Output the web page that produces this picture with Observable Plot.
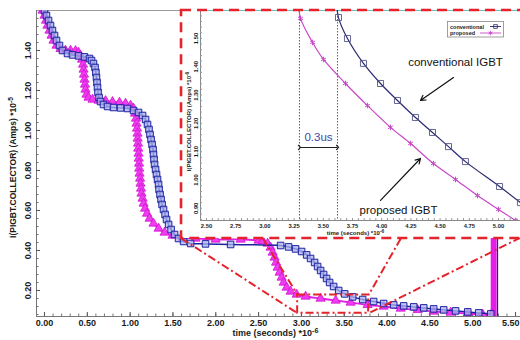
<!DOCTYPE html>
<html><head><meta charset="utf-8">
<script src="https://cdn.jsdelivr.net/npm/d3@7"></script>
<script src="https://cdn.jsdelivr.net/npm/@observablehq/plot@0.6"></script>
<style>
body{margin:0;background:#fff;}
#wrap{position:relative;width:520px;height:340px;overflow:hidden;background:#fff;}
#wrap svg{position:absolute;}
</style></head><body><div id="wrap"></div>
<script>
// ---------- main chart data (time in µs, current in 1e-5 A) ----------
const convTime = [0.00,0.023,0.047,0.07,0.093,0.117,0.14,0.175,0.21,0.269,0.327,0.397,0.467,0.526,0.549,0.572,0.59,0.60,0.607,0.613,0.619,0.625,0.637,0.654,0.689,0.736,0.806,0.888,0.97,1.04,1.098,1.145,1.18,1.203,1.22,1.232,1.244,1.256,1.267,1.273,1.279,1.285,1.297,1.308,1.32,1.332,1.338,1.349,1.361,1.373,1.39,1.408,1.425,1.449,1.478,1.519,1.565,1.624,1.706,1.88,2.173,2.757,2.85,2.932,3.002,3.061,3.107,3.154,3.189,3.224,3.259,3.294,3.329,3.376,3.435,3.505,3.598,3.715,3.843,3.96,4.077,4.194,4.311,4.428,4.544,4.661,4.80,4.942,5.07,5.21];
const convCurrent = [1.60,1.575,1.55,1.525,1.50,1.475,1.45,1.425,1.40,1.385,1.378,1.373,1.368,1.36,1.35,1.335,1.315,1.29,1.265,1.24,1.215,1.19,1.165,1.145,1.13,1.12,1.115,1.113,1.11,1.10,1.09,1.075,1.055,1.03,1.005,0.98,0.955,0.93,0.905,0.88,0.855,0.83,0.805,0.78,0.755,0.73,0.705,0.68,0.655,0.63,0.605,0.58,0.555,0.53,0.505,0.48,0.46,0.445,0.435,0.433,0.43,0.425,0.418,0.408,0.395,0.378,0.36,0.34,0.32,0.30,0.28,0.26,0.24,0.22,0.20,0.183,0.168,0.155,0.145,0.135,0.128,0.123,0.118,0.113,0.108,0.103,0.098,0.093,0.088,0.083];
const propTime = [-0.023,0.00,0.018,0.035,0.058,0.082,0.105,0.14,0.187,0.245,0.304,0.362,0.397,0.42,0.438,0.45,0.456,0.461,0.467,0.473,0.479,0.49,0.514,0.561,0.631,0.713,0.794,0.876,0.946,1.005,1.04,1.057,1.069,1.075,1.08,1.086,1.088,1.092,1.094,1.098,1.10,1.104,1.106,1.11,1.116,1.121,1.127,1.133,1.145,1.157,1.174,1.197,1.227,1.273,1.332,1.402,1.495,1.612,1.764,1.998,2.29,2.50,2.55,2.605,2.64,2.664,2.687,2.704,2.722,2.745,2.769,2.792,2.827,2.874,2.944,3.049,3.224,3.40,3.575,3.773,3.96,4.159,4.357,4.544,4.743,4.942,5.117,5.21];
const propCurrent = [1.60,1.575,1.55,1.525,1.50,1.475,1.45,1.425,1.408,1.40,1.40,1.398,1.39,1.375,1.355,1.33,1.305,1.28,1.255,1.23,1.205,1.18,1.165,1.155,1.15,1.148,1.143,1.14,1.135,1.125,1.11,1.085,1.06,1.035,1.01,0.985,0.96,0.935,0.91,0.885,0.86,0.835,0.81,0.785,0.76,0.735,0.71,0.685,0.66,0.635,0.61,0.585,0.56,0.535,0.51,0.49,0.475,0.465,0.46,0.455,0.455,0.45,0.447,0.435,0.415,0.39,0.365,0.34,0.315,0.29,0.265,0.24,0.215,0.195,0.18,0.17,0.16,0.15,0.14,0.128,0.12,0.11,0.103,0.095,0.09,0.085,0.08,0.078];
const convRestart = [5.29];   // vertical jump at end of simulation
const propRestart = [5.245];
const mainXTicks = [0,0.5,1,1.5,2,2.5,3,3.5,4,4.5,5,5.5];
const mainYTicks = [0.2,0.4,0.6,0.8,1.0,1.2,1.4];

// ---------- zoom annotation (main chart coordinates) ----------
const zoomBoxT = [2.956, 3.785];
const zoomBoxI = [0.086, 0.178];
const insetBoxT = [1.60, 5.70];
const insetBoxI = [0.46, 1.60];
const guideFromT = [1.60, 2.55, 4.16, 5.56];
const guideFromI = [0.46, 0.46, 0.46, 0.465];
const guideToT   = [2.956, 2.956, 3.785, 3.785];
const guideToI   = [0.086, 0.178, 0.178, 0.086];

// ---------- inset data (time in µs, current in 1e-6 A) ----------
const insetConvTime = [3.615,3.63,3.707,3.844,3.99,4.135,4.289,4.435,4.572,4.717,5.009,5.188];
const insetConvCurrent = [1.62,1.574,1.50,1.412,1.341,1.281,1.221,1.168,1.118,1.065,0.977,0.92];
const insetPropTime = [3.29,3.305,3.408,3.502,3.69,3.878,4.075,4.247,4.443,4.632,4.82,5.0,5.146];
const insetPropCurrent = [1.62,1.571,1.486,1.426,1.341,1.263,1.186,1.129,1.058,1.002,0.945,0.896,0.857];
const insetXTicks = [2.5,2.75,3.0,3.25,3.5,3.75,4.0,4.25,4.5,4.75,5.0];
const insetYTicks = [0.9,1.0,1.1,1.2,1.3,1.4,1.5];
const delayMarks = [3.296, 3.622];
const delayLabel = "0.3us";
const calloutLabels = ["conventional IGBT", "proposed IGBT"];
const calloutTextT = [4.632, 4.144];
const calloutTextI = [1.415, 0.892];
const calloutFromT = [4.615, 3.99];
const calloutFromI = [1.362, 0.928];
const calloutToT = [4.332, 4.332];
const calloutToI = [1.281, 1.076];
const legendLabels = ["conventional", "proposed"];

// ---------- styling ----------
const FONT = '"Liberation Sans", Arial, Helvetica, sans-serif';
const RED = "#e4232b";
const NAVY = "#1e22a0";
const MAG = "#e41ee4";
const INAVY = "#2a2a72";
const IMAG = "#c848c8";
const wrap = document.getElementById("wrap");

const conv = convTime.map((t,k)=>({t, i: convCurrent[k]}));
const prop = propTime.map((t,k)=>({t, i: propCurrent[k]}));
const guides = guideFromT.map((t,k)=>({x1:t, y1:guideFromI[k], x2:guideToT[k], y2:guideToI[k]}));

const xDom = [-0.0934, 5.558], yDom = [0.07, 1.60];
const frameOpts = {width:520, height:340, marginLeft:36, marginRight:0, marginTop:10, marginBottom:24,
  x:{domain:xDom, axis:null}, y:{domain:yDom, axis:null}};
const bold = {fontWeight:"bold", fill:"#1a1a1a"};

function supify(svg){
  d3.select(svg).selectAll("text").each(function(){
    const t = this.textContent;
    if (t.includes("^")) {
      const [base, sup] = t.split("^");
      const s = d3.select(this); s.text(null);
      s.append("tspan").text(base);
      s.append("tspan").attr("dy","-0.45em").attr("font-size","0.8em").text(sup);
    }
  });
}

const lastTick = mainXTicks[mainXTicks.length - 1];
const main = Plot.plot({
  ...frameOpts,
  style:{background:"white", fontFamily:FONT},
  marks:[
    Plot.ruleY([yDom[1]], {stroke:"#9a9a9a"}),
    Plot.ruleX([xDom[0]], {stroke:"#777"}),
    Plot.ruleY([yDom[0]], {stroke:"#777"}),
    Plot.axisX(d3.range(0, 5.56, 0.1), {tickSize:2.5, dy:-2.5, tickFormat:()=>"", label:null, stroke:"#777"}),
    Plot.axisX(mainXTicks, {tickSize:4, dy:-4, tickFormat:()=>"", label:null, stroke:"#555"}),
    Plot.axisY(d3.range(0.08, 1.6, 0.04), {tickSize:2.5, dx:2.5, tickFormat:()=>"", label:null, stroke:"#777"}),
    Plot.axisY(mainYTicks, {tickSize:4, dx:4, tickFormat:()=>"", label:null, stroke:"#555"}),
    Plot.text(mainXTicks.filter(d=>d!==lastTick), {x:d=>d, frameAnchor:"bottom", dy:7, lineAnchor:"middle", text:d=>d.toFixed(2), fontSize:9, ...bold}),
    Plot.text([lastTick], {x:d=>d, frameAnchor:"bottom", dy:7, dx:4, lineAnchor:"middle", textAnchor:"end", text:d=>d.toFixed(2), fontSize:9, ...bold}),
    Plot.text(mainYTicks, {y:d=>d, frameAnchor:"left", dx:-8, rotate:-90, lineAnchor:"middle", textAnchor:"middle", text:d=>d.toFixed(2), fontSize:9, ...bold}),
    Plot.text(["time (seconds) *10^-6"], {frameAnchor:"bottom", dx:-3, dy:17, lineAnchor:"middle", fontSize:9, ...bold}),
    Plot.text(["I(PIGBT.COLLECTOR) (Amps) *10^-5"], {frameAnchor:"left", dx:-23, dy:4, rotate:-90, lineAnchor:"middle", textAnchor:"middle", fontSize:8.5, ...bold}),
    Plot.ruleX(propRestart, {stroke:MAG, strokeWidth:6}),
    Plot.ruleX(convRestart, {stroke:NAVY, strokeWidth:1.2}),
    Plot.line(prop, {x:"t", y:"i", stroke:MAG, strokeWidth:1.8, curve:"catmull-rom", clip:true}),
    Plot.dot(prop, {x:"t", y:"i", symbol:"triangle", r:3.4, fill:"#ee3cee", stroke:"#d010d0", strokeWidth:0.8, clip:true}),
    Plot.line(conv, {x:"t", y:"i", stroke:NAVY, strokeWidth:1.5, curve:"catmull-rom", clip:true}),
    Plot.dot(conv, {x:"t", y:"i", symbol:"square", r:3.7, fill:"#a9b3ee", fillOpacity:0.75, stroke:NAVY, strokeWidth:1, clip:true}),
    Plot.link(guides, {x1:"x1", y1:"y1", x2:"x2", y2:"y2", stroke:RED, strokeWidth:2, strokeDasharray:"8,3,2,3"}),
    Plot.rect([0], {x1:zoomBoxT[0], x2:zoomBoxT[1], y1:zoomBoxI[0], y2:zoomBoxI[1], fill:"none", stroke:RED, strokeWidth:2, strokeDasharray:"8,3,2,3"})
  ]
});
supify(main);
main.style.left = "0px"; main.style.top = "0px";
wrap.appendChild(main);

// ---------- inset ----------
const ic = insetConvTime.map((t,k)=>({t, i: insetConvCurrent[k]}));
const ip = insetPropTime.map((t,k)=>({t, i: insetPropCurrent[k]}));
const callouts = calloutLabels.map((s,k)=>({s, tx:calloutTextT[k], ti:calloutTextI[k], x1:calloutFromT[k], y1:calloutFromI[k], x2:calloutToT[k], y2:calloutToI[k]}));
const ixDom = [2.4486, 5.1884], iyDom = [0.8569, 1.5989];
const inset = Plot.plot({
  width:340, height:230, marginLeft:20, marginRight:0, marginTop:2, marginBottom:18,
  x:{domain:ixDom, axis:null}, y:{domain:iyDom, axis:null},
  style:{background:"white", fontFamily:FONT},
  marks:[
    Plot.ruleY([iyDom[1]], {stroke:"#6fb7b7"}),
    Plot.ruleX([ixDom[0]], {stroke:"#888"}),
    Plot.ruleY([iyDom[0]], {stroke:"#888"}),
    Plot.axisX(d3.range(2.45, 5.19, 0.05), {tickSize:2, dy:-2, tickFormat:()=>"", label:null, stroke:"#999"}),
    Plot.axisY(d3.range(0.86, 1.6, 0.02), {tickSize:2, dx:2, tickFormat:()=>"", label:null, stroke:"#999"}),
    Plot.text(insetXTicks, {x:d=>d, frameAnchor:"bottom", dy:6, lineAnchor:"middle", text:d=>d.toFixed(2), fontSize:5.8, ...bold}),
    Plot.text(insetYTicks, {y:d=>d, frameAnchor:"left", dx:-4, rotate:-90, lineAnchor:"middle", textAnchor:"middle", text:d=>d.toFixed(2), fontSize:5.8, ...bold}),
    Plot.text(["time (seconds) *10^-6"], {frameAnchor:"bottom", dx:-5, dy:13, lineAnchor:"middle", fontSize:6, ...bold}),
    Plot.text(["I(PIGBT.COLLECTOR) (Amps) *10^-6"], {frameAnchor:"left", dx:-11, dy:6, rotate:-90, lineAnchor:"middle", textAnchor:"middle", fontSize:6, ...bold}),
    Plot.ruleX(delayMarks, {stroke:"#333", strokeWidth:0.8, strokeDasharray:"1.5,1.5"}),
    Plot.line(ip, {x:"t", y:"i", stroke:IMAG, strokeWidth:1.2, curve:"catmull-rom", clip:true}),
    Plot.dot(ip, {x:"t", y:"i", symbol:"asterisk", r:2.6, stroke:IMAG, strokeWidth:1, clip:true}),
    Plot.line(ic, {x:"t", y:"i", stroke:INAVY, strokeWidth:1.2, curve:"catmull-rom", clip:true}),
    Plot.dot(ic, {x:"t", y:"i", symbol:"square", r:3.4, fill:"none", stroke:"#555588", strokeWidth:0.9, clip:true}),
    Plot.link([0], {x1:delayMarks[0], x2:delayMarks[1], y1:1.115, y2:1.115, stroke:"#222", strokeWidth:1.1, markerStart:"arrow", markerEnd:"arrow"}),
    Plot.text([delayLabel], {x:(delayMarks[0]+delayMarks[1])/2, y:1.152, fontSize:11.5, fill:"#3a48a8"}),
    Plot.arrow(callouts, {x1:"x1", y1:"y1", x2:"x2", y2:"y2", stroke:"#111", strokeWidth:1.2, headLength:7}),
    Plot.text(callouts, {x:"tx", y:"ti", text:"s", fontSize:11.5, fill:"#111"})
  ]
});
supify(inset);
inset.style.left = "180px"; inset.style.top = "8px";
wrap.appendChild(inset);

// ---------- inset legend ----------
const leg = d3.select(wrap).append("svg").attr("width", 58).attr("height", 17)
  .style("position","absolute").style("left","447px").style("top","21px");
leg.append("rect").attr("x",0.5).attr("y",0.5).attr("width",56).attr("height",15.5)
  .attr("fill","white").attr("stroke","#888").attr("stroke-width",0.8);
const legColors = [INAVY, IMAG];
const legSymbols = [d3.symbolSquare, d3.symbolAsterisk];
const legLineStart = [43, 33];
legendLabels.forEach((lab,k)=>{
  const y = 5.5 + k*6.5;
  leg.append("text").attr("x",3).attr("y",y+2).attr("font-family",FONT).attr("font-size",5.5)
    .attr("font-weight","bold").attr("fill","#222").text(lab);
  leg.append("line").attr("x1",legLineStart[k]).attr("x2",54).attr("y1",y).attr("y2",y)
    .attr("stroke",legColors[k]).attr("stroke-width",0.9);
  leg.append("path").attr("transform",`translate(${(legLineStart[k]+54)/2},${y})`)
    .attr("d", d3.symbol(legSymbols[k], 14)()).attr("fill","none").attr("stroke",legColors[k]).attr("stroke-width",0.8);
});

// ---------- red dashed frame around inset (on top) ----------
const overlay = Plot.plot({
  ...frameOpts,
  style:{background:"transparent"},
  marks:[
    Plot.rect([0], {x1:insetBoxT[0], x2:insetBoxT[1], y1:insetBoxI[0], y2:insetBoxI[1], fill:"none", stroke:RED, strokeWidth:2.6, strokeDasharray:"10,6"})
  ]
});
overlay.style.left = "0px"; overlay.style.top = "0px"; overlay.style.pointerEvents = "none";
wrap.appendChild(overlay);
</script>
</body></html>
